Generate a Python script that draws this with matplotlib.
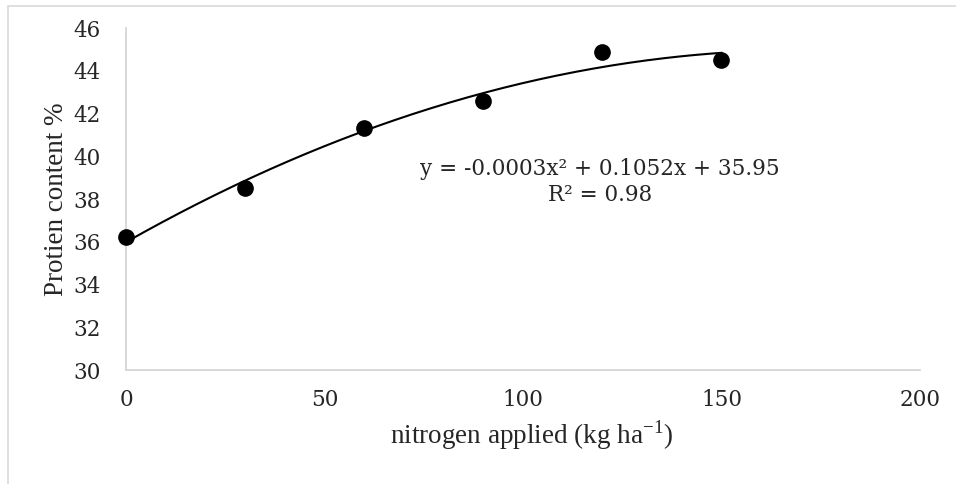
import matplotlib
matplotlib.use("Agg")
import matplotlib.pyplot as plt
import matplotlib.patches as patches
import numpy as np

# nitrogen rate (kg/ha) and protein content (%)
nitrogen = [0, 30, 60, 90, 120, 150]
protein = [36.2, 38.5, 41.3, 42.6, 44.9, 44.5]
x_ticks = [0, 50, 100, 150, 200]
y_ticks = [30, 32, 34, 36, 38, 40, 42, 44, 46]
equation_text = "y = -0.0003x\u00b2 + 0.1052x + 35.95\nR\u00b2 = 0.98"

plt.rcParams['mathtext.fontset'] = 'custom'
plt.rcParams['mathtext.rm'] = 'Liberation Serif'

fig = plt.figure(figsize=(9.56, 4.84), dpi=100)
ax = fig.add_axes([0.1318, 0.2355, 0.8305, 0.7066])

# outer chart border (cut by the image edge)
border = patches.Rectangle((8 / 956, -0.1), 1.2, 1 - 6 / 484 + 0.1,
                           transform=fig.transFigure, fill=False,
                           edgecolor='#d9d9d9', linewidth=1.2)
fig.add_artist(border)

# polynomial trendline (order 2), fitted from the points
coef = np.polyfit(nitrogen, protein, 2)
xs = np.linspace(min(nitrogen), max(nitrogen), 200)
ax.plot(xs, np.polyval(coef, xs), color='black', linewidth=1.5, zorder=2)

ax.plot(nitrogen, protein, 'o', color='black', markersize=11, zorder=3,
        clip_on=False)

ax.set_xlim(0, 200)
ax.set_ylim(30, 46)
ax.set_xticks(x_ticks)
ax.set_yticks(y_ticks)

for s in ['top', 'right']:
    ax.spines[s].set_visible(False)
for s in ['left', 'bottom']:
    ax.spines[s].set_color('#d6d6d6')
    ax.spines[s].set_linewidth(1.3)

ax.tick_params(length=0, labelsize=15.5, colors='#262626')
ax.tick_params(axis='y', pad=18)
ax.tick_params(axis='x', pad=14)
for lbl in ax.get_xticklabels() + ax.get_yticklabels():
    lbl.set_family('DejaVu Serif')

ax.set_xlabel('nitrogen applied (kg ha$^{\\mathrm{-1}}$)', family='Liberation Serif',
              fontsize=19.5, color='#262626', labelpad=4)
ax.xaxis.set_label_coords(0.511, -0.14)
ax.set_ylabel('Protien content %', family='Liberation Serif',
              fontsize=19.5, color='#262626', labelpad=3)

ax.text(119.4, 38.8, equation_text, ha='center', va='center',
        family='DejaVu Serif', fontsize=15.5, color='#262626', linespacing=1.25)

plt.savefig("out.png", dpi=100)
